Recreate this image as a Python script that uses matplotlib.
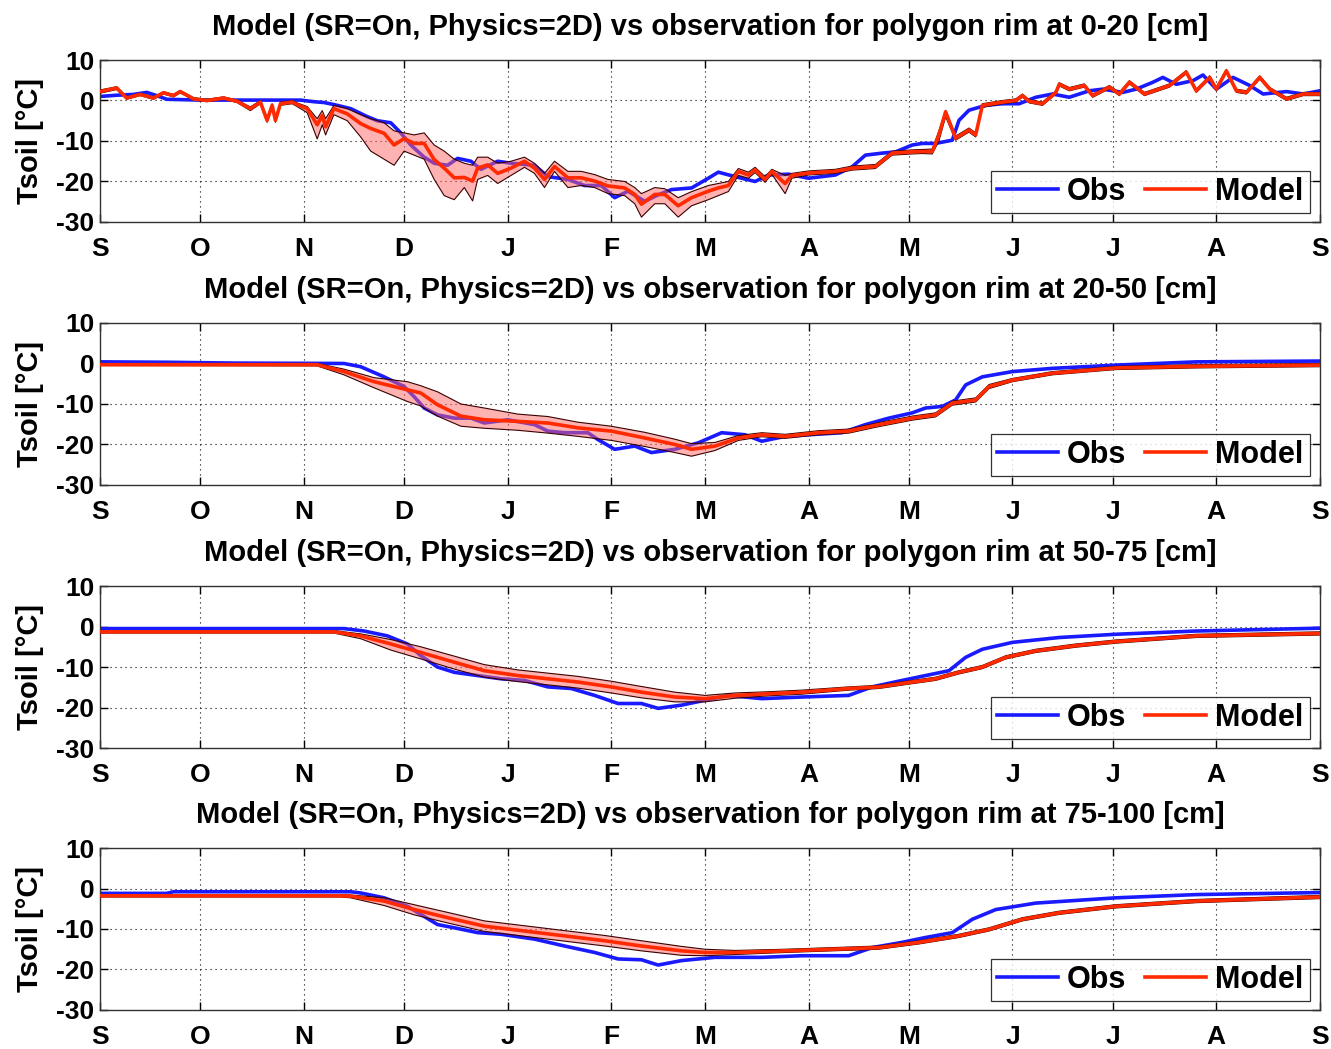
import matplotlib
matplotlib.use('Agg')
import matplotlib.pyplot as plt
import numpy as np

plt.rcParams['font.family'] = ['Liberation Sans', 'DejaVu Sans']
plt.rcParams['font.weight'] = 'bold'
plt.rcParams['axes.unicode_minus'] = False

# Eje temporal: dias desde el 1 de septiembre
month_days = [0, 30, 61, 91, 122, 153, 181, 212, 242, 273, 303, 334, 365]
month_labels = ['S', 'O', 'N', 'D', 'J', 'F', 'M', 'A', 'M', 'J', 'J', 'A', 'S']
depths = ['0-20', '20-50', '50-75', '75-100']

# ---- Capa 0-20 cm ----
obs1_day = [0, 5, 10, 14, 17, 20, 30, 45, 60, 64, 67, 70, 75, 80, 83, 87, 90, 93, 97, 100,
            104, 107, 111, 114, 119, 123, 130, 134, 140, 145, 150, 154, 158, 163, 167, 171,
            177, 182, 185, 190, 196, 200, 206, 212, 220, 225, 229, 234, 238, 243, 246, 250,
            255, 257, 260, 265, 270, 275, 280, 285, 290, 296, 300, 306, 310, 315, 318, 322,
            327, 330, 334, 339, 344, 348, 355, 360, 365]
obs1_val = [1.0, 1.3, 1.5, 2.0, 1.2, 0.3, 0.1, 0.1, 0.1, -0.3, -0.5, -1.0, -2.0, -4.0, -5.0,
            -5.5, -8.0, -11.0, -14.0, -15.5, -16.0, -14.3, -15.0, -17.0, -15.0, -15.5, -16.0,
            -18.8, -19.5, -21.0, -21.0, -24.0, -22.4, -24.9, -23.3, -22.0, -21.6, -19.2, -17.7,
            -18.8, -20.0, -18.4, -18.2, -19.2, -18.4, -16.4, -13.5, -13.0, -12.7, -11.0, -10.6,
            -10.6, -9.8, -4.9, -2.4, -1.2, -0.8, -0.8, 0.8, 1.6, 0.8, 2.4, 2.8, 2.0, 2.8, 4.5,
            5.7, 4.0, 4.9, 6.3, 2.8, 5.7, 3.7, 1.6, 2.2, 1.6, 2.4]

mod1_day = [0, 5, 8, 12, 16, 19, 22, 24, 28, 32, 37, 41, 45, 48, 50, 51.5, 52.5, 54, 57.5, 59,
            62, 65, 66.5, 67.5, 70, 74, 78, 81, 85, 88, 91, 94, 97, 100, 103, 106, 109, 111.5,
            113, 116, 119, 123, 127, 130, 133, 136, 140, 144, 148, 152, 157, 160, 162, 166,
            169, 173, 177, 182, 185, 188, 191, 194, 196, 199, 201, 205, 207, 212, 220, 225,
            232, 237, 243, 246, 249, 251, 253, 256, 260, 262, 264, 270, 274, 276, 278, 282,
            286, 287, 290, 294.5, 297, 302, 305, 308, 312.5, 320, 325, 328, 332, 334, 337,
            340, 343, 347, 350, 355, 360, 365]
mod1_val = [2.2, 3.1, 0.6, 1.5, 0.6, 1.9, 1.2, 2.2, 0.4, 0.0, 0.6, -0.2, -2.0, -0.4, -4.9,
            -1.2, -4.9, -0.8, -0.4, -1.0, -2.0, -6.0, -3.7, -6.5, -2.0, -3.3, -5.7, -6.9, -8.1,
            -11.0, -9.4, -10.6, -10.6, -14.6, -16.7, -19.1, -19.0, -19.9, -16.7, -15.9, -18.0,
            -16.7, -15.0, -16.7, -19.5, -16.3, -19.1, -19.1, -19.9, -21.1, -21.6, -23.2, -25.6,
            -23.2, -23.2, -26.0, -24.0, -22.4, -21.6, -21.0, -17.5, -18.4, -17.1, -19.5, -17.5,
            -20.5, -18.5, -17.9, -17.5, -16.7, -16.3, -13.0, -12.7, -12.6, -12.6, -8.5, -2.8,
            -9.3, -7.3, -8.5, -1.2, -0.4, 0.0, 1.2, -0.2, -0.8, 2.0, 4.0, 2.8, 3.7, 1.2, 3.3,
            1.6, 4.5, 1.6, 3.7, 7.0, 2.4, 5.7, 2.8, 7.3, 2.4, 2.0, 5.7, 2.8, 0.4, 1.6, 1.6]
mod1_lo = [1.8, 2.7, 0.3, 1.2, 0.3, 1.6, 0.9, 1.9, 0.1, -0.3, 0.3, -0.5, -2.5, -0.8, -5.4,
           -1.6, -5.4, -1.2, -0.8, -1.5, -3.0, -9.5, -6.0, -8.5, -3.5, -5.0, -9.0, -12.5, -14.5,
           -16.0, -12.5, -13.5, -14.5, -19.5, -23.5, -24.5, -21.5, -24.8, -19.5, -18.5, -20.5,
           -18.5, -16.5, -18.0, -21.5, -17.5, -21.5, -21.0, -21.5, -23.0, -23.5, -25.5, -28.8,
           -25.5, -25.5, -28.8, -26.0, -24.5, -23.5, -22.5, -18.5, -19.2, -17.8, -20.2, -18.2,
           -23.0, -19.2, -18.4, -18.0, -17.2, -16.8, -13.5, -13.2, -13.1, -13.2, -10.0, -4.0,
           -9.8, -7.8, -9.0, -1.7, -0.8, -0.4, 0.8, -0.6, -1.2, 1.6, 3.6, 2.4, 3.3, 0.8, 2.9,
           1.2, 4.1, 1.2, 3.3, 6.6, 2.0, 5.3, 2.4, 6.9, 2.0, 1.6, 5.3, 2.4, 0.0, 1.2, 1.2]
mod1_hi = [2.6, 3.4, 0.9, 1.8, 0.9, 2.2, 1.5, 2.5, 0.7, 0.3, 0.9, 0.1, -1.6, 0.0, -4.4,
           -0.8, -4.4, -0.4, 0.0, -0.6, -1.5, -4.5, -2.5, -4.5, -1.2, -2.0, -3.5, -4.5, -5.5,
           -7.5, -8.0, -8.5, -8.0, -11.0, -12.5, -14.5, -15.5, -16.0, -14.0, -14.0, -15.5,
           -15.0, -14.0, -15.5, -18.0, -15.0, -17.5, -17.5, -18.3, -19.5, -20.0, -21.5, -23.0,
           -21.5, -21.8, -24.0, -22.5, -21.0, -20.5, -20.0, -16.8, -17.7, -16.5, -18.8, -17.0,
           -18.5, -18.0, -17.4, -17.0, -16.2, -15.8, -12.5, -12.2, -12.1, -12.0, -7.5, -2.4,
           -8.8, -6.8, -8.0, -0.8, 0.0, 0.4, 1.6, 0.2, -0.4, 2.4, 4.4, 3.2, 4.1, 1.6, 3.7,
           2.0, 4.9, 2.0, 4.1, 7.4, 2.8, 6.1, 3.2, 7.7, 2.8, 2.4, 6.1, 3.2, 0.8, 2.0, 2.0]

# ---- Capa 20-50 cm ----
obs2_day = [0, 20, 40, 73, 78, 85, 91, 94, 97, 101, 106, 111, 115, 122, 130, 134, 139, 146,
            149, 154, 160, 165, 172, 179, 186, 193, 198, 205, 212, 222, 229, 236, 243, 247,
            252, 256, 259, 264, 273, 285, 304, 328, 365]
obs2_val = [0.4, 0.3, 0.1, 0.0, -0.8, -3.3, -5.7, -8.2, -11.0, -12.7, -13.5, -13.5, -14.7,
            -13.9, -15.1, -16.7, -17.1, -17.1, -18.8, -21.2, -20.4, -22.0, -21.2, -19.6, -17.1,
            -17.6, -19.2, -18.0, -17.6, -17.1, -15.1, -13.5, -12.2, -11.0, -10.6, -9.0, -5.3,
            -3.3, -2.0, -1.2, -0.4, 0.4, 0.6]
mod2_day = [0, 65, 73, 82, 92, 96, 101, 108, 115, 125, 134, 143, 153, 163, 172, 177, 184,
            191, 198, 205, 215, 224, 233, 243, 250, 255, 262, 266, 273, 285, 304, 328, 365]
mod2_val = [-0.3, -0.3, -2.0, -4.5, -6.5, -7.3, -10.2, -13.0, -13.9, -14.3, -14.7, -15.9,
            -16.7, -18.4, -20.0, -21.2, -20.4, -18.4, -17.6, -18.0, -17.1, -16.7, -15.1, -13.5,
            -12.7, -9.8, -9.0, -5.7, -4.1, -2.4, -1.1, -0.7, -0.4]
mod2_lo = [-0.5, -0.6, -2.8, -6.0, -9.4, -10.5, -13.0, -15.5, -16.0, -16.5, -17.2, -18.0,
           -19.0, -20.5, -22.0, -22.9, -21.5, -19.0, -18.1, -18.5, -17.6, -17.2, -15.6, -14.0,
           -13.2, -10.3, -9.5, -6.2, -4.5, -2.8, -1.5, -1.1, -0.8]
mod2_hi = [-0.1, 0.0, -1.4, -3.5, -4.5, -5.5, -7.0, -10.0, -11.0, -12.5, -13.1, -14.5,
           -15.5, -17.0, -18.7, -19.8, -19.5, -17.8, -17.1, -17.5, -16.6, -16.2, -14.6, -13.0,
           -12.2, -9.3, -8.5, -5.2, -3.7, -2.0, -0.7, -0.3, 0.0]

# ---- Capa 50-75 cm ----
obs3_day = [0, 73, 79, 86, 92, 96, 101, 106, 113, 120, 127, 134, 141, 148, 155, 162, 167,
            174, 181, 188, 198, 210, 224, 231, 240, 247, 254, 259, 264, 273, 287, 304, 328, 365]
obs3_val = [-0.5, -0.5, -1.1, -2.3, -4.3, -7.2, -10.0, -11.3, -12.1, -12.9, -13.3, -14.9,
            -15.3, -17.0, -19.0, -19.0, -20.2, -19.4, -18.2, -17.0, -17.8, -17.4, -17.0, -14.9,
            -13.3, -12.1, -10.9, -7.6, -5.6, -3.9, -2.7, -1.9, -1.1, -0.4]
mod3_day = [0, 70, 78, 87, 96, 106, 115, 125, 134, 143, 153, 162, 172, 181, 190, 200, 210,
            224, 233, 243, 250, 257, 264, 271, 280, 292, 304, 328, 365]
mod3_val = [-1.3, -1.3, -2.3, -4.3, -6.4, -8.8, -10.9, -12.1, -12.9, -13.7, -14.9, -16.2,
            -17.4, -17.8, -17.0, -16.6, -16.2, -15.3, -14.9, -13.7, -12.9, -11.3, -10.0, -7.6,
            -6.0, -4.7, -3.7, -2.3, -1.7]
mod3_lo = [-1.6, -1.6, -3.0, -5.8, -8.0, -10.5, -12.5, -13.6, -14.4, -15.2, -16.4, -17.6,
           -18.6, -18.6, -17.7, -17.1, -16.7, -15.7, -15.3, -14.1, -13.3, -11.7, -10.4, -8.0,
           -6.4, -5.1, -4.1, -2.7, -2.1]
mod3_hi = [-1.0, -1.0, -1.8, -3.2, -5.0, -7.3, -9.4, -10.7, -11.5, -12.3, -13.5, -14.8,
           -16.2, -17.0, -16.4, -16.1, -15.7, -14.9, -14.5, -13.3, -12.5, -10.9, -9.6, -7.2,
           -5.6, -4.3, -3.3, -1.9, -1.3]

# ---- Capa 75-100 cm ----
obs4_day = [0, 20, 22, 75, 78, 85, 92, 96, 101, 106, 113, 120, 130, 139, 148, 155, 162, 167,
            174, 184, 198, 210, 224, 231, 240, 247, 255, 261, 268, 280, 304, 328, 365]
obs4_val = [-1.2, -1.2, -0.8, -0.8, -1.1, -2.3, -4.4, -6.4, -8.9, -9.7, -10.9, -11.3, -12.5,
            -14.2, -15.8, -17.4, -17.6, -18.9, -17.8, -17.0, -17.0, -16.6, -16.6, -14.6, -13.3,
            -12.1, -10.9, -7.6, -5.2, -3.6, -2.3, -1.5, -1.0]
mod4_day = [0, 72, 75, 85, 94, 104, 115, 127, 139, 151, 162, 174, 181, 190, 205, 219, 233,
            245, 257, 266, 276, 287, 304, 328, 365]
mod4_val = [-1.8, -1.8, -1.9, -3.1, -5.2, -7.2, -9.3, -10.5, -11.7, -12.9, -14.2, -15.4,
            -15.8, -15.8, -15.4, -15.0, -14.6, -13.3, -11.7, -10.1, -7.6, -6.0, -4.4, -3.1, -2.1]
mod4_lo = [-2.1, -2.1, -2.3, -4.2, -6.5, -8.5, -10.6, -11.8, -13.0, -14.2, -15.4, -16.5,
           -16.6, -16.3, -15.8, -15.4, -15.0, -13.7, -12.1, -10.5, -8.0, -6.4, -4.8, -3.5, -2.5]
mod4_hi = [-1.5, -1.5, -1.6, -2.3, -4.0, -5.9, -8.0, -9.2, -10.4, -11.6, -12.9, -14.3,
           -15.0, -15.3, -15.0, -14.6, -14.2, -12.9, -11.3, -9.7, -7.2, -5.6, -4.0, -2.7, -1.7]

capas = [
    (obs1_day, obs1_val, mod1_day, mod1_val, mod1_lo, mod1_hi),
    (obs2_day, obs2_val, mod2_day, mod2_val, mod2_lo, mod2_hi),
    (obs3_day, obs3_val, mod3_day, mod3_val, mod3_lo, mod3_hi),
    (obs4_day, obs4_val, mod4_day, mod4_val, mod4_lo, mod4_hi),
]

fig = plt.figure(figsize=(13.31, 10.49), dpi=100)
bottoms = [0.7884, 0.5377, 0.2869, 0.0372]

for i, (od, ov, md, mv, mlo, mhi) in enumerate(capas):
    ax = fig.add_axes([0.0751, bottoms[i], 0.9166, 0.1544])

    # Observacion, banda del modelo y media del modelo
    l_obs, = ax.plot(od, ov, color='#1a1aff', lw=2.6, zorder=2)
    ax.fill_between(md, mlo, mhi, facecolor=(1.0, 0.4, 0.4), alpha=0.5,
                    edgecolor='none', zorder=3)
    ax.plot(md, mlo, color='#3a0000', lw=0.8, zorder=3)
    ax.plot(md, mhi, color='#3a0000', lw=0.8, zorder=3)
    l_mod, = ax.plot(md, mv, color='#ff2a00', lw=2.6, zorder=4)

    ax.set_xlim(0, 365)
    ax.set_ylim(-30, 10)
    ax.set_yticks([-30, -20, -10, 0, 10])
    ax.set_xticks(month_days)
    ax.set_xticklabels(month_labels)
    ax.tick_params(direction='in', top=True, right=True, length=6, width=1,
                   labelsize=19)
    ax.tick_params(axis='x', pad=10.5)
    ax.tick_params(axis='y', pad=4)
    ax.grid(True, color='black', linestyle=(0, (1, 3.5)), linewidth=0.8)
    for sp in ax.spines.values():
        sp.set_linewidth(1.0)
        sp.set_color('#333333')

    ax.set_ylabel('Tsoil [°C]', fontsize=21, fontweight='bold', labelpad=9)
    ax.set_title('Model (SR=On, Physics=2D) vs observation for polygon rim at '
                 + depths[i] + ' [cm]', fontsize=21, fontweight='bold', pad=18)

    leg = ax.legend([l_obs, l_mod], ['Obs', 'Model'], loc='lower right', ncol=2,
                    fontsize=22, frameon=True, fancybox=False, edgecolor='black',
                    handlelength=2.0, handletextpad=0.3, columnspacing=0.6,
                    borderpad=0.2, borderaxespad=0.3, bbox_to_anchor=(0.999, 0.0))
    leg.get_frame().set_linewidth(0.9)

plt.savefig('out.png', dpi=100)
